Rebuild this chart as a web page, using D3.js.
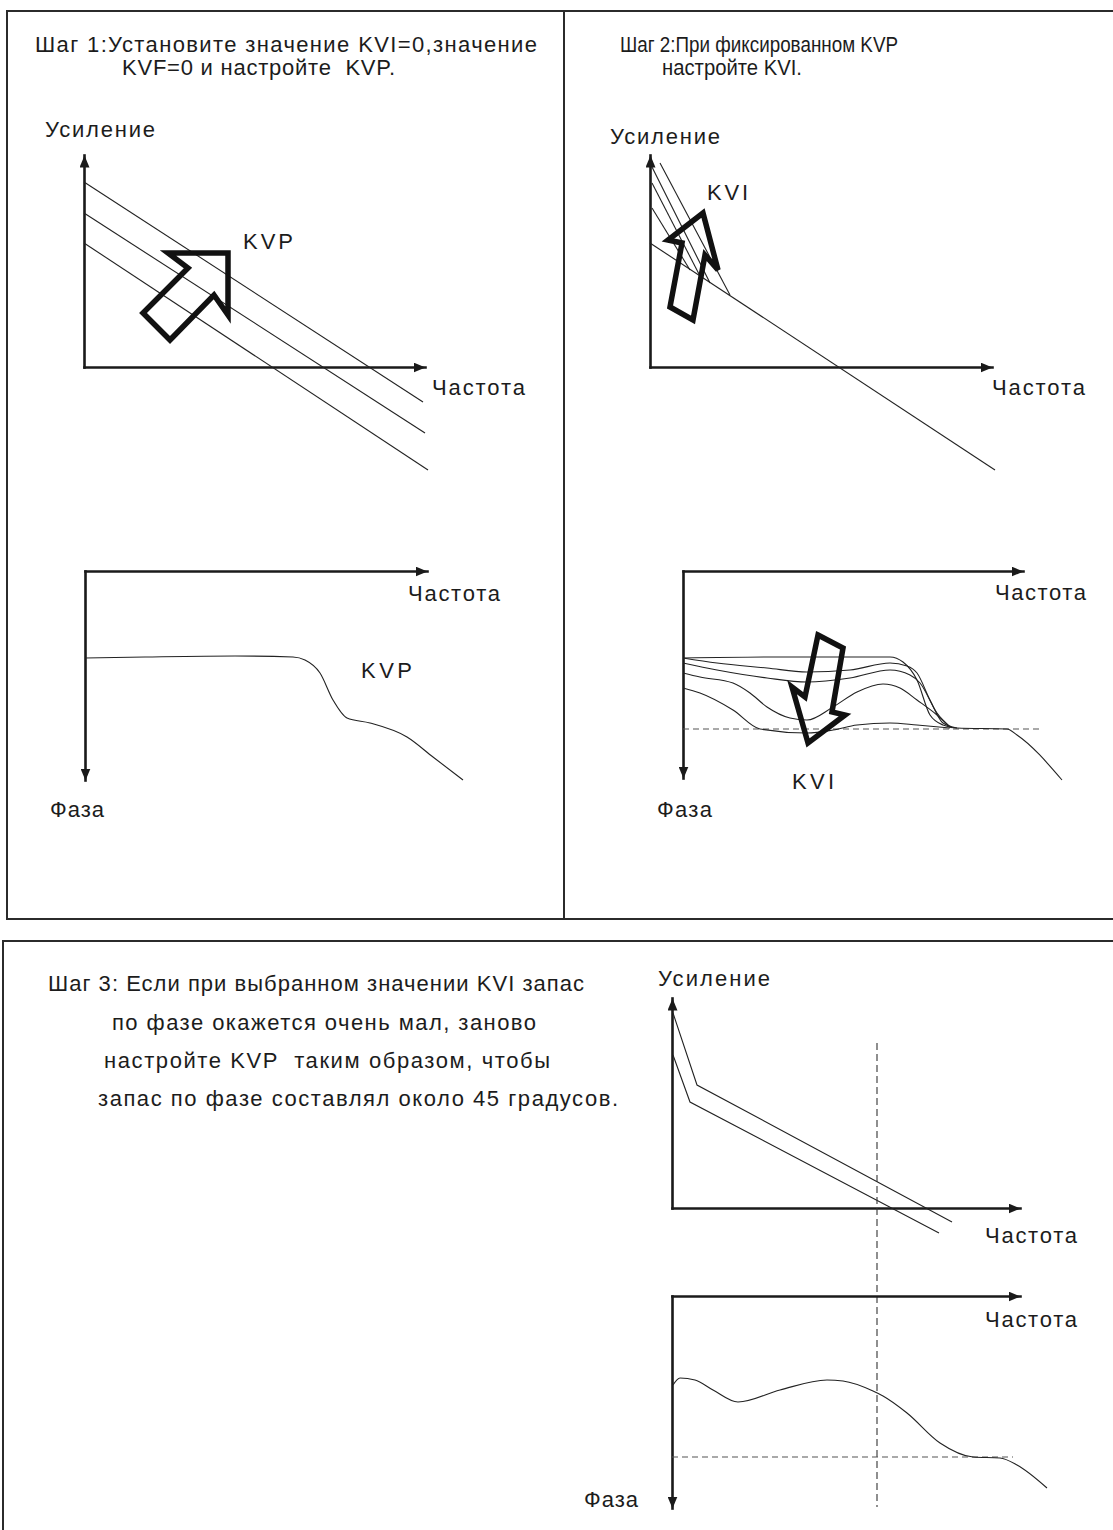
<!DOCTYPE html>
<html><head><meta charset="utf-8">
<script src="https://cdn.jsdelivr.net/npm/d3@7"></script>
<style>
body{margin:0;background:#fff}
svg{display:block}
text{font-family:"Liberation Sans",Arial,sans-serif;font-size:22px;fill:#1c1c1c;white-space:pre}
</style>
</head><body><svg id="c" width="1113" height="1530"></svg>
<script>
// ================= DATA =================
// Texts
const step1Title = ["Шаг 1:Установите значение KVI=0,значение", "KVF=0 и настройте  KVP."];
const step2Title = ["Шаг 2:При фиксированном KVP", "настройте KVI."];
const step3Title = ["Шаг 3: Если при выбранном значении KVI запас",
                    "по фазе окажется очень мал, заново",
                    "настройте KVP  таким образом, чтобы",
                    "запас по фазе составлял около 45 градусов."];
const gainLabel = "Усиление";
const freqLabel = "Частота";
const phaseLabel = "Фаза";
const kvpLabel = "KVP";
const kviLabel = "KVI";

// Step 1 – gain (frequency, gain) lines for increasing KVP
const s1GainLines = [
  [[0,185],[339,-35]],
  [[0,154],[341,-66]],
  [[0,124],[344,-103]]
];
const s1KvpArrow = [[84,114],[144,114],[144,52],[130,72],[86,27],[59,54],[104,99]];
// Step 1 – phase (frequency, phase lag)
const s1Phase = [[0,87],[60,86],[150,85],[208,86],[220,89],[235,102],[248,129],[262,147],[285,152],[322,166],[348,186],[378,209]];

// Step 2 – gain
const s2GainMain = [[0,124],[345,-103]];
const s2GainKvi = [
  [[10,204],[80,72]],
  [[2,200],[60,84]],
  [[2,184],[50,91]],
  [[2,159],[40,97]]
];
const s2KviArrowGain = [[53,154],[68,97],[55,112],[43,47],[20,60],[32,124],[18,127]];
// Step 2 – phase curves for increasing KVI
const s2PhaseA = [[0,87],[97,86],[207,86],[220,91],[234,109],[247,144],[260,154],[274,157],[324,158],[334,164],[379,209]];
const s2PhaseB = [[0,87],[34,92],[84,97],[124,101],[167,99],[207,92],[224,95],[234,102],[247,129],[260,152],[274,157]];
const s2PhaseC = [[0,92],[34,99],[84,107],[124,111],[167,107],[207,99],[227,104],[237,112],[254,142],[267,156]];
const s2PhaseD = [[0,102],[17,106],[50,112],[67,122],[84,136],[107,147],[124,149],[150,136],[174,121],[200,113],[217,117],[234,129],[254,144],[267,156]];
const s2PhaseE = [[0,117],[17,122],[50,139],[77,158],[124,162],[150,159],[174,154],[207,152],[234,154],[267,157]];
const s2PhaseRef = [[0,158],[360,158]];
const s2KviArrowPhase = [[135,64],[160,77],[149,141],[162,144],[125,172],[109,116],[122,126]];

// Step 3 – gain
const s3GainUpper = [[1,195],[25,123],[280,-14]];
const s3GainLower = [[1,153],[18,106],[267,-25]];
const s3CrossLine = [[205,165],[205,-299]];
// Step 3 – phase
const s3Phase = [[1,89],[8,82],[23,84],[41,94],[66,106],[108,94],[155,84],[171,85],[201,95],[211,100],[235,117],[268,147],[301,161],[328,162],[345,169],[375,192]];
const s3PhaseRef = [[0,161],[341,161]];

// ================= DRAWING =================
const svg = d3.select("#c");
const ink = "#1a1a1a";

svg.append("defs").append("marker")
  .attr("id","ah").attr("viewBox","0 0 12 10").attr("refX",12).attr("refY",5)
  .attr("markerWidth",12).attr("markerHeight",10).attr("markerUnits","userSpaceOnUse").attr("orient","auto")
  .append("path").attr("d","M0,0L12,5L0,10z").attr("fill",ink);

// Frames
const frame = svg.append("g").attr("fill","none").attr("stroke","#2b2b2b").attr("stroke-width",2);
frame.append("rect").attr("x",7).attr("y",11).attr("width",1130).attr("height",908);
frame.append("line").attr("x1",564).attr("y1",11).attr("x2",564).attr("y2",919);
frame.append("rect").attr("x",3).attr("y",941).attr("width",1140).attr("height",620);

function makePlot(ox, oy, xLen, yLen, down) {
  const x = d3.scaleLinear().domain([0,xLen]).range([ox, ox+xLen]);
  const y = d3.scaleLinear().domain([0,yLen]).range([oy, down ? oy+yLen : oy-yLen]);
  const g = svg.append("g");
  const xAx = down ? d3.axisTop(x) : d3.axisBottom(x);
  g.append("g").attr("transform",`translate(0,${oy})`).call(xAx.tickValues([]).tickSizeOuter(0));
  g.append("g").attr("transform",`translate(${ox},0)`).call(d3.axisLeft(y).tickValues([]).tickSizeOuter(0));
  g.selectAll(".domain").attr("stroke",ink).attr("stroke-width",2.6)
    .attr("stroke-linecap","square").attr("marker-end","url(#ah)");
  return {x, y, g};
}

function drawLine(p, data, opts={}) {
  const l = d3.line().x(d=>p.x(d[0])).y(d=>p.y(d[1])).curve(opts.curve || d3.curveLinear);
  p.g.append("path").attr("d", l(data)).attr("fill","none")
    .attr("stroke", opts.color || "#222").attr("stroke-width", opts.width || 1.1)
    .attr("stroke-dasharray", opts.dash || null);
}
function drawArrow(p, data) {
  p.g.append("path").attr("d", d3.line().x(d=>p.x(d[0])).y(d=>p.y(d[1]))(data) + "Z")
    .attr("fill","none").attr("stroke","#111").attr("stroke-width",5.5).attr("stroke-linejoin","miter");
}
function label(txt, x, y, w) {
  const t = svg.append("text").attr("x",x).attr("y",y).text(txt);
  const nat = t.node().getComputedTextLength();
  t.attr("textLength", w).attr("lengthAdjust", w < nat ? "spacingAndGlyphs" : "spacing");
}

// ---- Step 1 ----
const p1g = makePlot(84, 367, 341, 212, false);
s1GainLines.forEach(d => drawLine(p1g, d));
drawArrow(p1g, s1KvpArrow);
const p1p = makePlot(85, 571, 342, 209, true);
drawLine(p1p, s1Phase, {curve: d3.curveMonotoneX});

// ---- Step 2 ----
const p2g = makePlot(650, 367, 342, 212, false);
drawLine(p2g, s2GainMain);
s2GainKvi.forEach(d => drawLine(p2g, d));
drawArrow(p2g, s2KviArrowGain);
const p2p = makePlot(683, 571, 340, 207, true);
drawLine(p2p, s2PhaseRef, {dash:"6,4", color:"#555"});
[s2PhaseA, s2PhaseB, s2PhaseC, s2PhaseD, s2PhaseE].forEach(d => drawLine(p2p, d, {curve: d3.curveMonotoneX}));
drawArrow(p2p, s2KviArrowPhase);

// ---- Step 3 ----
const p3g = makePlot(672, 1208, 348, 210, false);
drawLine(p3g, s3GainUpper);
drawLine(p3g, s3GainLower);
drawLine(p3g, s3CrossLine, {dash:"7,4", color:"#333"});
const p3p = makePlot(672, 1296, 348, 212, true);
drawLine(p3p, s3PhaseRef, {dash:"6,4", color:"#555"});
drawLine(p3p, s3Phase, {curve: d3.curveMonotoneX});

// ---- Labels ----
label(step1Title[0], 35, 52, 502);
label(step1Title[1], 122, 75, 273);
label(step2Title[0], 620, 52, 278);
label(step2Title[1], 662, 75, 140);
label(step3Title[0], 48, 991, 536);
label(step3Title[1], 112, 1030, 424);
label(step3Title[2], 104, 1068, 446);
label(step3Title[3], 98, 1106, 520);

label(gainLabel, 45, 137, 110);
label(kvpLabel, 243, 249, 50);
label(freqLabel, 432, 395, 93);
label(freqLabel, 408, 601, 92);
label(kvpLabel, 361, 678, 51);
label(phaseLabel, 50, 817, 54);

label(gainLabel, 610, 144, 110);
label(kviLabel, 707, 200, 41);
label(freqLabel, 992, 395, 93);
label(freqLabel, 995, 600, 91);
label(kviLabel, 792, 789, 42);
label(phaseLabel, 657, 817, 55);

label(gainLabel, 658, 986, 112);
label(freqLabel, 985, 1243, 92);
label(freqLabel, 985, 1327, 92);
label(phaseLabel, 584, 1507, 54);
</script></body></html>
